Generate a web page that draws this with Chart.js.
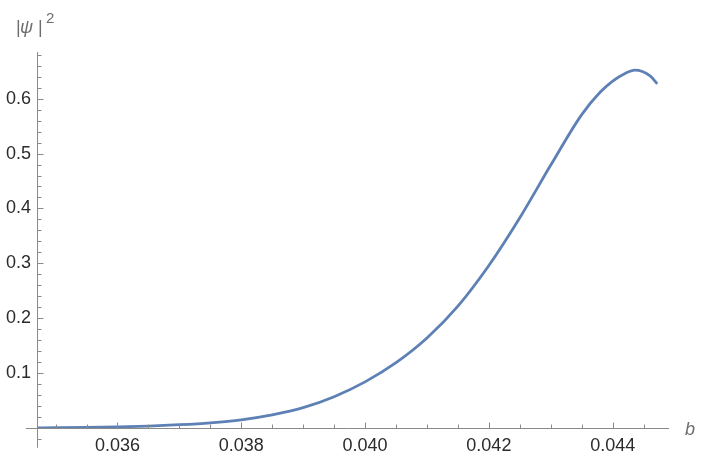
<!DOCTYPE html>
<html>
<head>
<meta charset="utf-8">
<script src="https://cdn.jsdelivr.net/npm/chart.js@4/dist/chart.umd.min.js"></script>
<style>
  html, body { margin: 0; padding: 0; background: #fff; }
  canvas { display: block; }
</style>
</head>
<body>
<canvas id="chart" width="707" height="476"></canvas>
<script>
// ------------------- DATA -------------------
const bValues = [0.0347, 0.0350, 0.0355, 0.0360, 0.0365, 0.0370, 0.0375, 0.0380, 0.0385, 0.0390,
  0.0395, 0.0400, 0.0405, 0.0410, 0.0415, 0.0420, 0.0425, 0.0430, 0.0435, 0.0438,
  0.0440, 0.0442, 0.04436, 0.0446, 0.04472];
const psiSquared = [0.0003, 0.0005, 0.001, 0.002, 0.0035, 0.006, 0.0095, 0.015, 0.024, 0.037,
  0.057, 0.084, 0.119, 0.164, 0.222, 0.296, 0.383, 0.479, 0.571, 0.612,
  0.632, 0.646, 0.652, 0.642, 0.627];

const xTickLabels = [0.036, 0.038, 0.040, 0.042, 0.044];
const yTickLabels = [0.1, 0.2, 0.3, 0.4, 0.5, 0.6];
const xMinorStep = 0.0005;
const yMinorStep = 0.02;

const xMin = 0.0347, xMax = 0.04491;
const yMin = 0, yMax = 0.685;
const xAxisFrom = 0.03452;   // x axis line runs a bit left of the y axis
const yAxisFrom = -0.036;    // y axis line runs a bit below the x axis

const axisColor = "#8a8a8a";
const curveColor = "rgb(94,129,181)";

// ------------------- AXES PLUGIN -------------------
const mmaAxes = {
  id: "mmaAxes",
  afterDraw(chart) {
    const { ctx } = chart;
    const xs = chart.scales.x, ys = chart.scales.y;
    const axY = Math.round(ys.getPixelForValue(0)) + 0.5;
    const axX = Math.round(xs.getPixelForValue(xMin)) + 0.5;

    ctx.save();
    ctx.strokeStyle = axisColor;
    ctx.lineWidth = 1;

    // axis lines
    ctx.beginPath();
    ctx.moveTo(xs.getPixelForValue(xAxisFrom), axY);
    ctx.lineTo(xs.getPixelForValue(xMax), axY);
    ctx.moveTo(axX, ys.getPixelForValue(yAxisFrom));
    ctx.lineTo(axX, ys.getPixelForValue(yMax));
    ctx.stroke();

    // x ticks (pointing up)
    ctx.beginPath();
    for (let k = Math.ceil(xMin / xMinorStep); k * xMinorStep <= xMax; k++) {
      const v = k * xMinorStep;
      const px = Math.round(xs.getPixelForValue(v)) + 0.5;
      const major = xTickLabels.some(t => Math.abs(t - v) < 1e-9);
      ctx.moveTo(px, axY);
      ctx.lineTo(px, axY - (major ? 6 : 4));
    }
    // y ticks (pointing right)
    for (let k = Math.ceil(yAxisFrom / yMinorStep); k * yMinorStep <= yMax; k++) {
      if (k === 0) continue;
      const v = k * yMinorStep;
      const py = Math.round(ys.getPixelForValue(v)) + 0.5;
      const major = yTickLabels.some(t => Math.abs(t - v) < 1e-9);
      ctx.moveTo(axX, py);
      ctx.lineTo(axX + (major ? 6 : 4), py);
    }
    ctx.stroke();

    // axis labels
    ctx.fillStyle = "#6e6e6e";
    ctx.textBaseline = "alphabetic";
    ctx.font = "18px 'Liberation Sans', Arial, sans-serif";
    ctx.fillText("|", 16, 33);
    ctx.font = "italic 18px 'Liberation Sans', Arial, sans-serif";
    ctx.fillText("\u03C8", 20, 33);
    ctx.font = "18px 'Liberation Sans', Arial, sans-serif";
    ctx.fillText("|", 38, 33);
    ctx.font = "15px 'Liberation Sans', Arial, sans-serif";
    ctx.fillText("2", 46, 23);

    ctx.font = "italic 18px 'Liberation Sans', Arial, sans-serif";
    ctx.fillText("b", 685, axY + 6);
    ctx.restore();
  }
};

// ------------------- CHART -------------------
new Chart(document.getElementById("chart"), {
  type: "line",
  data: {
    datasets: [{
      data: bValues.map((b, i) => ({ x: b, y: psiSquared[i] })),
      borderColor: curveColor,
      borderWidth: 2.8,
      pointRadius: 0,
      cubicInterpolationMode: "monotone",
      fill: false
    }]
  },
  options: {
    responsive: false,
    animation: false,
    devicePixelRatio: 1,
    layout: { padding: { top: 52, right: 38, left: 0, bottom: 0 } },
    plugins: { legend: { display: false }, tooltip: { enabled: false } },
    scales: {
      x: {
        type: "linear",
        min: xMin,
        max: xMax,
        afterBuildTicks: s => { s.ticks = xTickLabels.map(v => ({ value: v })); },
        afterFit: s => { s.height = 48; },
        grid: { display: false, drawTicks: false },
        border: { display: false },
        ticks: {
          padding: 7,
          color: "#2b2b2b",
          font: { family: "'Liberation Sans', Arial, sans-serif", size: 18 },
          maxRotation: 0,
          autoSkip: false,
          callback: v => v.toFixed(3)
        }
      },
      y: {
        type: "linear",
        min: yMin,
        max: yMax,
        afterBuildTicks: s => { s.ticks = yTickLabels.map(v => ({ value: v })); },
        afterFit: s => { s.width = 37; },
        grid: { display: false, drawTicks: false },
        border: { display: false },
        ticks: {
          padding: 6,
          color: "#2b2b2b",
          font: { family: "'Liberation Sans', Arial, sans-serif", size: 18 },
          autoSkip: false,
          callback: v => v.toFixed(1)
        }
      }
    }
  },
  plugins: [mmaAxes]
});
</script>
</body>
</html>
